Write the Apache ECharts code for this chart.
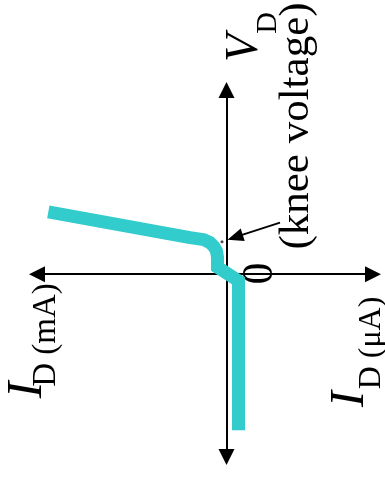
<!DOCTYPE html>
<html>
<head>
<meta charset="utf-8">
<title>Diode characteristic</title>
<script src="https://cdn.jsdelivr.net/npm/echarts@6/dist/echarts.min.js"></script>
<style>
  html, body { margin: 0; padding: 0; background: #fff; }
  #chart { width: 385px; height: 483px; }
</style>
</head>
<body>
<div id="chart"></div>
<script>
// Diode I-V curve, drawn turned on its side: voltage runs up the page,
// forward current (mA) runs to the left, reverse current (uA) to the right.

// Current along the horizontal axis (forward current positive, to the left)
const curveCurrent = [17.82, 3.65, 2.25, 1.65, 1.25, 1.00, 0.90, 0.90, -1.20, -1.20];
// Diode voltage along the vertical axis (V)
const curveVoltage = [1.343, 0.787, 0.744, 0.679, 0.593, 0.496, 0.366, 0.151, -0.140, -3.362];

// Knee of the curve, and the pointer from its caption (the arrowhead is
// centred on its end point, so the end sits half a head back from the knee)
const kneePoint = [0.45, 0.70];
const kneeArrowStart = [-5.35, 1.11];
const kneeArrowEnd = [-0.86, 0.797];

// Axis extents
const currentRange = [-14.65, 18.95];
const voltageRange = [-3.94, 3.97];

const serif = "'Liberation Serif', 'Times New Roman', serif";

const curveData = curveCurrent.map((c, i) => [c, curveVoltage[i]]);

const chart = echarts.init(document.getElementById('chart'), null, { renderer: 'canvas' });

function label(text, x, y, size, italic) {
  return {
    type: 'text',
    x: x,
    y: y,
    rotation: Math.PI / 2,
    silent: true,
    style: {
      text: text,
      font: (italic ? 'italic ' : '') + size + 'px ' + serif,
      fill: '#000',
      textAlign: 'center',
      textVerticalAlign: 'middle',
      align: 'center',
      verticalAlign: 'middle'
    }
  };
}

const axisLine = {
  show: true,
  onZero: true,
  symbol: ['triangle', 'triangle'],
  symbolSize: [16, 16],
  lineStyle: { color: '#000', width: 2 }
};

chart.setOption({
  animation: false,
  backgroundColor: '#fff',
  grid: { left: 37, right: 12, top: 90, bottom: 26 },
  xAxis: {
    type: 'value',
    inverse: true,
    min: currentRange[0],
    max: currentRange[1],
    axisLine: axisLine,
    axisTick: { show: false },
    axisLabel: { show: false },
    splitLine: { show: false }
  },
  yAxis: {
    type: 'value',
    min: voltageRange[0],
    max: voltageRange[1],
    axisLine: axisLine,
    axisTick: { show: false },
    axisLabel: { show: false },
    splitLine: { show: false }
  },
  series: [
    {
      type: 'line',
      data: curveData,
      showSymbol: false,
      silent: true,
      lineStyle: { color: '#33CCCC', width: 13, cap: 'butt', join: 'miter' },
      markLine: {
        silent: true,
        symbol: ['none', 'triangle'],
        symbolSize: [13, 16],
        label: { show: false },
        lineStyle: { color: '#000', width: 1.8, type: 'solid' },
        data: [[{ coord: kneeArrowStart }, { coord: kneeArrowEnd }]]
      }
    },
    {
      type: 'scatter',
      data: [kneePoint],
      symbolSize: 3,
      silent: true,
      itemStyle: { color: '#222' }
    }
  ],
  graphic: [
    label('V', 244.5, 48, 46, true),
    label('D', 268, 23, 30, false),
    label('(knee voltage)', 297, 126, 43, false),
    label('0', 260.5, 273.5, 44, false),
    label('I', 28, 390, 50, true),
    label('D (mA)', 46, 335, 33, false),
    label('I', 350.8, 399, 48, true),
    label('D (\u03bcA)', 371.2, 343, 32, false)
  ]
});
</script>
</body>
</html>
